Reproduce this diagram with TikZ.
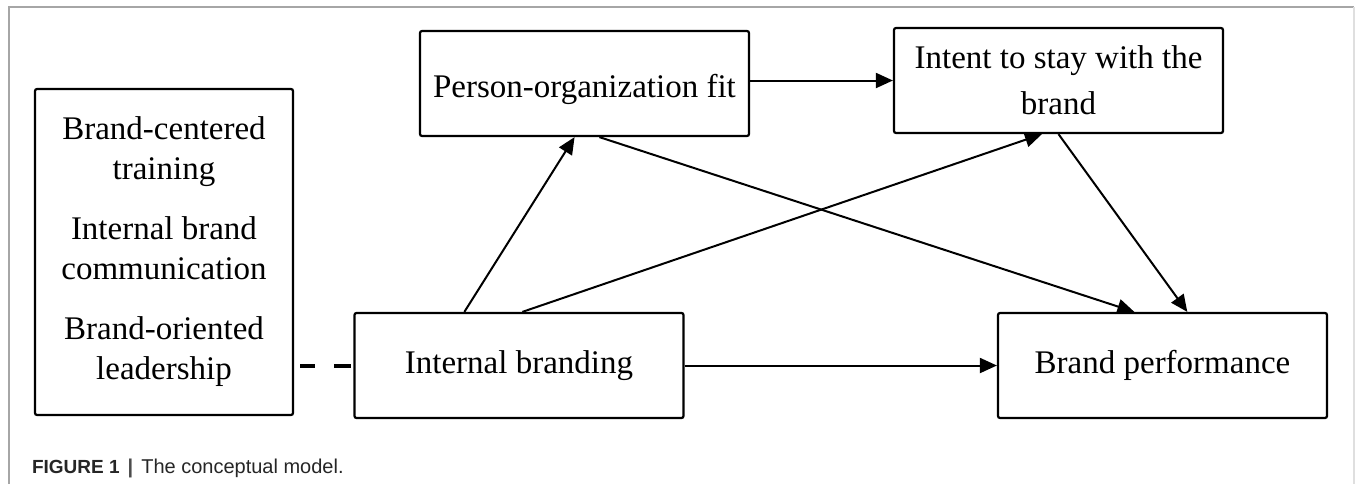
\documentclass[tikz,border=0pt]{standalone}
\usepackage{fontspec}
\setmainfont{Liberation Serif}
\setsansfont{Liberation Sans}
\usetikzlibrary{arrows.meta, calc}

\begin{document}
\begin{tikzpicture}[
    x=0.5pt, y=-0.5pt,
    every node/.style={font=\fontsize{16.5}{20}\selectfont},
    box/.style={draw, line width=1.1pt, rounded corners=1pt, inner sep=0pt, align=center,
        minimum width=164.5pt, minimum height=52.5pt},
    arrow/.style={-{Triangle[length=8.5pt, width=7.5pt]}, line width=1pt},
    frame/.style={line width=0.6pt}
]

\useasboundingbox (0,0) rectangle (1355,484);

% Figure frame
\draw[frame, gray!70] (9,484) -- (9,7) -- (1354,7);
\draw[frame, gray!25] (1354,7) -- (1354,484);

% ============ DIMENSIONS ============
\node[box, minimum width=129pt, minimum height=163pt] (lbox) at (164,252) {Brand-centered\\training\\[10pt]Internal brand\\communication\\[10pt]Brand-oriented\\leadership};

% ============ CONSTRUCTS ============
\node[box, text height=17.5pt] (pofit) at (584.5,83.5) {Person-organization fit};
\node[box] (intent) at (1058.5,80.5) {Intent to stay with the\\[3pt]brand};
\node[box] (ib) at (519,365.5) {Internal branding};
\node[box] (bp) at (1162.5,365.5) {Brand performance};

% Dashed link
\draw[line width=2pt, dash pattern={on 0pt off 3pt on 7.5pt off 9.5pt on 8.5pt off 5pt}]
    (lbox.east |- ib.west) -- (ib.west);

% Paths
\draw[arrow] (ib.east) -- (bp.west);
\draw[arrow] (pofit.east |- intent.west) -- (intent.west);
\draw[arrow] ($(ib.north west)!.335!(ib.north east)$) -- ($(pofit.south west)!.47!(pofit.south east)$);
\draw[arrow] ($(ib.north west)!.51!(ib.north east)$) -- ($(intent.south west)!.45!(intent.south east)$);
\draw[arrow] ($(pofit.south west)!.545!(pofit.south east)$) -- ($(bp.north west)!.415!(bp.north east)$);
\draw[arrow] (intent.south) -- ($(bp.north west)!.575!(bp.north east)$);

% Caption
\node[anchor=west, font=\sffamily\fontsize{10}{12}\selectfont, text=black!85] (caption) at (25,468)
    {{\fontsize{9.5}{12}\selectfont\textbf{FIGURE 1}}\hspace{4pt}\textcolor{black!70}{\textbf{|}}\hspace{4pt}The conceptual model.};

\end{tikzpicture}
\end{document}
